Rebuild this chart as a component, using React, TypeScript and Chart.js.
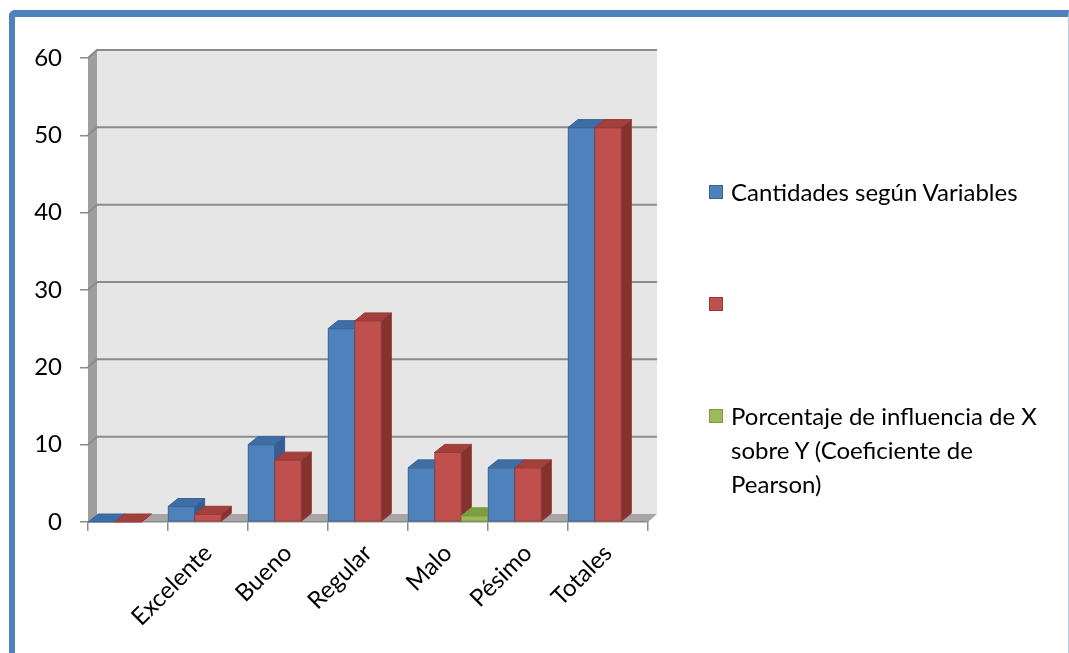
import React, { useEffect, useRef } from "react";
import { Chart, registerables } from "chart.js";

Chart.register(...registerables);

// ---------- data ----------
const categories = ["", "Excelente", "Bueno", "Regular", "Malo", "Pésimo", "Totales"];
const cantidades = [0, 2, 10, 25, 7, 7, 51];
const segundaSerie = [0, 1, 8, 26, 9, 7, 51];
const pearson: (number | null)[] = [null, null, null, null, 0.8, null, null];
const seriesLabels = [
  "Cantidades según Variables",
  "",
  "Porcentaje de influencia de X sobre Y (Coeficiente de Pearson)",
];
const yMin = 0;
const yMax = 60;
const yStep = 10;

// ---------- styles ----------
const FONT = "Lato, 'Open Sans', sans-serif";
const FONT_SIZE = 24;
const COLORS = [
  { front: "#4F81BD", top: "#3F6DA5", side: "#355E8F", border: "#3A6597" },
  { front: "#C0504D", top: "#A3403D", side: "#843230", border: "#973B38" },
  { front: "#9BBB59", top: "#7F9E43", side: "#6C8838", border: "#7A9A3E" },
];
const WALL_DX = 9;
const WALL_DY = -8;
const BAR_DX = 10;
const BAR_DY = -8;
const GRID = "#8A8A8A";

const wallsPlugin = {
  id: "walls3d",
  beforeDraw(chart: any) {
    const { ctx, chartArea, scales } = chart;
    const { left, right, top, bottom } = chartArea;
    const y = scales.y;
    ctx.save();
    // back wall
    ctx.fillStyle = "#E6E6E6";
    ctx.fillRect(left + WALL_DX, top + WALL_DY, right - left, bottom - top);
    // side wall
    ctx.fillStyle = "#9E9E9E";
    ctx.beginPath();
    ctx.moveTo(left, top);
    ctx.lineTo(left + WALL_DX, top + WALL_DY);
    ctx.lineTo(left + WALL_DX, bottom + WALL_DY);
    ctx.lineTo(left, bottom);
    ctx.closePath();
    ctx.fill();
    // gridlines
    ctx.strokeStyle = GRID;
    ctx.lineWidth = 2;
    for (let v = yMin + yStep; v <= yMax; v += yStep) {
      const yp = y.getPixelForValue(v);
      ctx.beginPath();
      ctx.moveTo(left, yp);
      ctx.lineTo(left + WALL_DX, yp + WALL_DY);
      ctx.lineTo(right + WALL_DX, yp + WALL_DY);
      ctx.stroke();
    }
    // floor
    ctx.fillStyle = "#A6A6A6";
    ctx.beginPath();
    ctx.moveTo(left, bottom);
    ctx.lineTo(left + WALL_DX, bottom + WALL_DY);
    ctx.lineTo(right + WALL_DX, bottom + WALL_DY);
    ctx.lineTo(right, bottom);
    ctx.closePath();
    ctx.fill();
    ctx.restore();
  },
};

const barsPlugin = {
  id: "bars3d",
  afterDatasetsDraw(chart: any) {
    const ctx = chart.ctx;
    const items: { el: any; di: number }[] = [];
    chart.data.datasets.forEach((ds: any, di: number) => {
      const meta = chart.getDatasetMeta(di);
      if (meta.hidden) return;
      meta.data.forEach((el: any, i: number) => {
        const v = ds.data[i];
        if (v === null || v === undefined) return;
        items.push({ el, di });
      });
    });
    items.sort((a, b) => a.el.x - b.el.x);
    ctx.save();
    for (const { el, di } of items) {
      const { x, y, base, width } = el.getProps(["x", "y", "base", "width"], true);
      if (!Number.isFinite(x) || !Number.isFinite(y)) continue;
      const l = x - width / 2;
      const r = x + width / 2;
      const c = COLORS[di];
      ctx.lineWidth = 1;
      ctx.strokeStyle = c.border;
      // side face
      ctx.fillStyle = c.side;
      ctx.beginPath();
      ctx.moveTo(r, y);
      ctx.lineTo(r + BAR_DX, y + BAR_DY);
      ctx.lineTo(r + BAR_DX, base + BAR_DY);
      ctx.lineTo(r, base);
      ctx.closePath();
      ctx.fill();
      ctx.stroke();
      // top face
      ctx.fillStyle = c.top;
      ctx.beginPath();
      ctx.moveTo(l, y);
      ctx.lineTo(l + BAR_DX, y + BAR_DY);
      ctx.lineTo(r + BAR_DX, y + BAR_DY);
      ctx.lineTo(r, y);
      ctx.closePath();
      ctx.fill();
      ctx.stroke();
      // front face
      if (base - y > 0.5) el.draw(ctx);
    }
    ctx.restore();
  },
};

export default function App() {
  const ref = useRef<HTMLCanvasElement | null>(null);

  useEffect(() => {
    if (!ref.current) return;
    const datasets = [cantidades, segundaSerie, pearson].map((data, i) => ({
      label: seriesLabels[i],
      data,
      backgroundColor: COLORS[i].front,
      borderColor: COLORS[i].border,
      borderWidth: 1,
      borderSkipped: false as const,
      categoryPercentage: 1,
      barPercentage: 1,
    }));
    const chart = new Chart(ref.current, {
      type: "bar",
      data: { labels: categories, datasets },
      options: {
        animation: false,
        responsive: false,
        maintainAspectRatio: false,
        layout: { padding: { left: 0, top: 58, right: 421, bottom: 0 } },
        plugins: { legend: { display: false }, tooltip: { enabled: false } },
        scales: {
          x: {
            offset: true,
            grid: {
              offset: true,
              drawOnChartArea: false,
              drawTicks: true,
              tickLength: 9,
              color: GRID,
              lineWidth: 1.5,
            },
            border: { display: true, color: GRID, width: 1.5 },
            ticks: {
              autoSkip: false,
              minRotation: 45,
              maxRotation: 45,
              padding: 8,
              color: "#000",
              font: { family: FONT, size: FONT_SIZE },
            },
            afterFit: (s: any) => {
              s.height = 131;
            },
          },
          y: {
            min: yMin,
            max: yMax,
            ticks: {
              stepSize: yStep,
              padding: 18,
              color: "#000",
              font: { family: FONT, size: FONT_SIZE },
            },
            grid: {
              drawOnChartArea: false,
              drawTicks: true,
              tickLength: 8,
              color: GRID,
              lineWidth: 1.5,
            },
            border: { display: false },
            afterFit: (s: any) => {
              s.width = 88;
            },
          },
        },
      },
      plugins: [wallsPlugin, barsPlugin],
    });
    return () => chart.destroy();
  }, []);

  const legendTops = [192, 304, 416];

  return (
    <div>
      <div
        style={{
          position: "absolute",
          left: 9,
          top: 10,
          width: 1060,
          height: 643,
          boxSizing: "border-box",
          borderLeft: "6px solid #4F81BD",
          borderTop: "7px solid #4F81BD",
          borderRight: "1px solid #B9CDE5",
          borderTopLeftRadius: 6,
        }}
      />
      <canvas
        ref={ref}
        width={1069}
        height={653}
        style={{ position: "absolute", left: 0, top: 0, width: 1069, height: 653 }}
      />
      {seriesLabels.map((label, i) => (
        <div key={i}>
          <div
            style={{
              position: "absolute",
              left: 709,
              top: legendTops[i] - 7,
              width: 14,
              height: 14,
              boxSizing: "border-box",
              background: COLORS[i].front,
              border: `1px solid ${COLORS[i].border}`,
            }}
          />
          <div
            style={{
              position: "absolute",
              left: 731,
              top: legendTops[i] - 17,
              width: 325,
              fontFamily: FONT,
              fontSize: FONT_SIZE,
              lineHeight: "34px",
              color: "#000",
            }}
          >
            {label}
          </div>
        </div>
      ))}
    </div>
  );
}
